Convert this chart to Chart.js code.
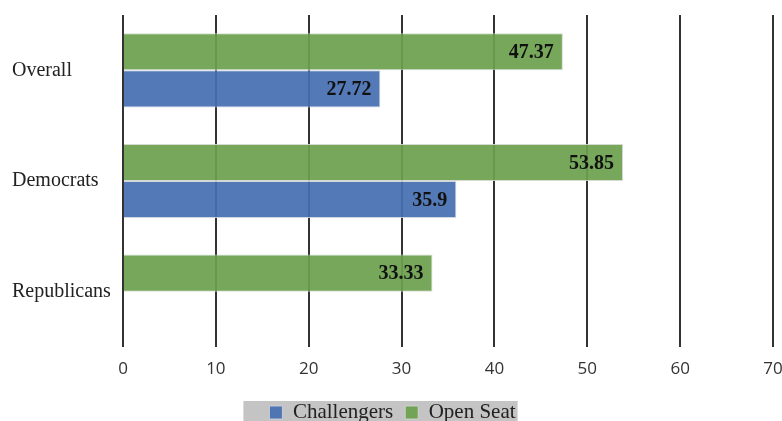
<!DOCTYPE html>
<html>
<head>
    <title>Challengers vs Open Seat</title>
    <script src="https://cdn.jsdelivr.net/npm/chart.js"></script>
    <style>
        body { margin: 0; background: #fff; }
        #wrap { width: 782px; height: 421px; }
    </style>
</head>
<body>
    <div id="wrap"><canvas id="barChart"></canvas></div>

    <script>
        const categories = ['Overall', 'Democrats', 'Republicans'];
        const challengers = [27.72, 35.9, 0];
        const openSeat = [47.37, 53.85, 33.33];
        const xTicks = [0, 10, 20, 30, 40, 50, 60, 70];

        // value labels at the inside end of each bar
        const barLabels = {
            id: 'barLabels',
            afterDatasetsDraw(chart) {
                const ctx = chart.ctx;
                ctx.save();
                ctx.font = 'bold 20px "Liberation Serif"';
                ctx.fillStyle = '#111';
                ctx.textAlign = 'right';
                ctx.textBaseline = 'middle';
                chart.data.datasets.forEach((ds, i) => {
                    chart.getDatasetMeta(i).data.forEach((bar, j) => {
                        if (ds.data[j] > 0) {
                            ctx.fillText(String(ds.data[j]), bar.x - 9, bar.y + 1);
                        }
                    });
                });
                ctx.restore();
            }
        };

        // grey strip behind the legend
        const legendBg = {
            id: 'legendBg',
            beforeDraw(chart) {
                const boxes = chart.legend && chart.legend.legendHitBoxes;
                if (!boxes || !boxes.length) return;
                const left = Math.min(...boxes.map(b => b.left)) - 26;
                const right = Math.max(...boxes.map(b => b.left + b.width)) + 2;
                const top = Math.min(...boxes.map(b => b.top)) - 1;
                const ctx = chart.ctx;
                ctx.save();
                ctx.fillStyle = '#c4c4c4';
                ctx.fillRect(left, top, right - left, chart.height - top);
                ctx.restore();
            }
        };

        new Chart(document.getElementById('barChart'), {
            type: 'bar',
            data: {
                labels: categories,
                datasets: [
                    {
                        label: 'Open Seat',
                        data: openSeat,
                        backgroundColor: 'rgba(108, 160, 78, 0.93)',
                        borderColor: 'rgba(210, 215, 205, 0.9)',
                        borderWidth: 1
                    },
                    {
                        label: 'Challengers',
                        data: challengers,
                        backgroundColor: 'rgba(70, 112, 176, 0.93)',
                        borderColor: 'rgba(205, 210, 220, 0.9)',
                        borderWidth: 1
                    }
                ]
            },
            options: {
                indexAxis: 'y',
                responsive: true,
                maintainAspectRatio: false,
                animation: false,
                layout: { padding: { top: 15, left: 12, right: 9, bottom: -12 } },
                categoryPercentage: 0.67,
                barPercentage: 1.0,
                scales: {
                    x: {
                        min: 0,
                        max: 70,
                        afterBuildTicks: scale => {
                            scale.ticks = xTicks.map(v => ({ value: v }));
                        },
                        afterFit: scale => {
                            scale.height = 43;
                            scale.paddingRight = 0;
                        },
                        grid: {
                            color: '#333',
                            lineWidth: 2,
                            drawTicks: false
                        },
                        border: { display: false },
                        ticks: {
                            padding: 12,
                            color: '#333',
                            font: { family: '"Open Sans"', size: 17 }
                        }
                    },
                    y: {
                        afterFit: scale => { scale.width = 111; },
                        grid: { display: false },
                        border: { display: false },
                        ticks: {
                            crossAlign: 'far',
                            color: '#222',
                            font: { family: '"Liberation Serif"', size: 20 }
                        }
                    }
                },
                plugins: {
                    legend: {
                        position: 'bottom',
                        reverse: true,
                        labels: {
                            boxWidth: 13,
                            boxHeight: 13,
                            padding: 12,
                            color: '#222',
                            font: { family: '"Liberation Serif"', size: 21 }
                        }
                    },
                    tooltip: { enabled: false }
                }
            },
            plugins: [legendBg, barLabels]
        });
    </script>
</body>
</html>
